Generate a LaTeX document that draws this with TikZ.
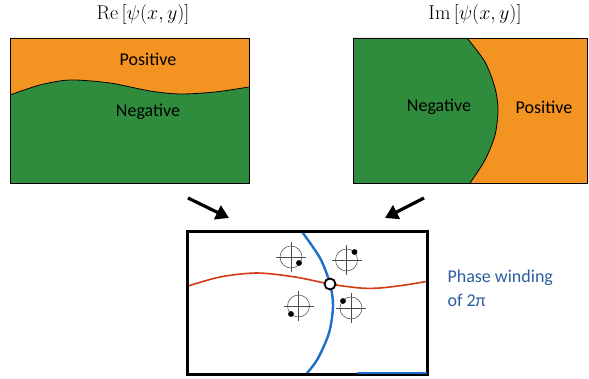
\documentclass[tikz,border=0pt]{standalone}
\usepackage{fix-cm}
\usepackage{fontspec}
\newfontfamily\labelfont{Carlito}
\usetikzlibrary{arrows.meta}

\begin{document}
\begin{tikzpicture}[x=1pt, y=-1pt,
    region/.style={font=\labelfont\fontsize{18}{21}\selectfont},
    title/.style={font=\fontsize{20}{24}\selectfont},
    bigarrow/.style={line width=3.2pt, -{Triangle[length=13pt,width=15pt]}},
    crosshair/.style={line width=0.55pt, black!70}]
    % Define colours
    \definecolor{posColour}{HTML}{F39322}
    \definecolor{negColour}{HTML}{2E8C3C}
    \definecolor{nodalBlue}{HTML}{1E6FC8}
    \definecolor{nodalRed}{HTML}{D23A14}
    \definecolor{noteBlue}{HTML}{2B5E9C}

    \useasboundingbox (0,0) rectangle (589,379);

    % Real part panel
    \fill[negColour] (10,38) rectangle (249,183);
    \fill[posColour] (249,38) -- (10,38) -- plot[smooth] coordinates
        {(10,95) (40,85) (70,80) (110,83) (150,91) (180,94) (215,92) (249,87)} -- cycle;
    \draw[thick] plot[smooth] coordinates
        {(10,95) (40,85) (70,80) (110,83) (150,91) (180,94) (215,92) (249,87)};
    \draw[thick] (10,38) rectangle (249,183);
    \node[title] (reTitle) at (143,15) {$\mathrm{Re}\,[\psi(x,y)]$};
    \node[region] (rePos) at (148,59) {Positive};
    \node[region] (reNeg) at (148,112) {Negative};

    % Imaginary part panel
    \fill[posColour] (353,38) rectangle (587,183);
    \fill[negColour] (353,38) -- plot[smooth] coordinates
        {(467,38) (485,62) (495,88) (498,110) (495,135) (485,160) (470,183)} -- (353,183) -- cycle;
    \draw[thick] plot[smooth] coordinates
        {(467,38) (485,62) (495,88) (498,110) (495,135) (485,160) (470,183)};
    \draw[thick] (353,38) rectangle (587,183);
    \node[title] (imTitle) at (475,15) {$\mathrm{Im}\,[\psi(x,y)]$};
    \node[region] (imNeg) at (439,107) {Negative};
    \node[region] (imPos) at (544,107) {Positive};

    % Arrows down to the combined picture
    \coordinate (reTail) at (188,198);
    \coordinate (reHead) at (229,218);
    \coordinate (imTail) at (424,198);
    \coordinate (imHead) at (385,218);
    \draw[bigarrow] (reTail) -- (reHead);
    \draw[bigarrow] (imTail) -- (imHead);

    % Nodal lines
    \begin{scope}
        \clip (187,232) rectangle (427,374);
        \draw[nodalRed, line width=1.6pt] plot[smooth] coordinates
            {(185,287) (220,277) (257,273) (295,277) (330,284) (360,288) (380,288) (405,285) (429,281)};
        \draw[nodalBlue, line width=2.4pt] plot[smooth] coordinates
            {(300,229) (320,258) (330,284) (333,306) (329,333) (317,360) (302,379)};
    \end{scope}
    \draw[line width=3pt] (187,232) rectangle (427,374);
    \draw[nodalBlue, line width=2.4pt] (357,373) -- (427,373);

    % Phase crosshairs
    \foreach \cx/\cy/\dx/\dy in {291/257/8/6, 346.5/260/8/-8, 298.5/306/-7.5/8, 351/308/-8/-7} {
        \draw[crosshair] (\cx,\cy) circle (11);
        \draw[crosshair] (\cx-15,\cy) -- (\cx+15,\cy);
        \draw[crosshair] (\cx,\cy-15) -- (\cx,\cy+15);
        \fill (\cx+\dx,\cy+\dy) circle (2.9);
    }

    % Vortex core
    \node[circle, draw, fill=white, line width=1.8pt, minimum size=11pt, inner sep=0pt] (vortex) at (330,284) {};

    \node[font=\labelfont\fontsize{18}{24}\selectfont, text=noteBlue, align=left, anchor=west] (winding)
        at (444,288) {Phase winding\\of 2π};

\end{tikzpicture}
\end{document}
